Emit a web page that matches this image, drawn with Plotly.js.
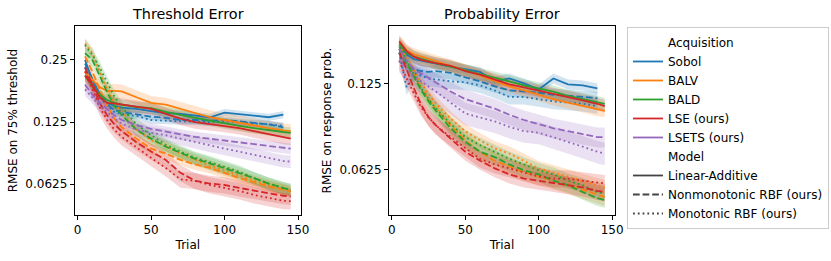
<!DOCTYPE html>
<html>
<head>
<meta charset="utf-8">
<script src="https://cdn.plot.ly/plotly-3.0.1.min.js"></script>
<style>html,body{margin:0;padding:0;background:#fff;}#chart{width:831px;height:261px;}</style>
</head>
<body>
<div id="chart"></div>
<script>
// ---------- data ----------
const acquisitions = ['Sobol', 'BALV', 'BALD', 'LSE (ours)', 'LSETS (ours)'];
const models = ['Linear-Additive', 'Nonmonotonic RBF (ours)', 'Monotonic RBF (ours)'];
const trials = [5, 10, 15, 20, 25, 30, 40, 50, 60, 70, 80, 90, 100, 110, 120, 130, 140, 145];
const trialsSobol = [5, 10, 15, 20, 25, 30, 40, 50, 60, 70, 80, 90, 100, 110, 120, 130, 140];
const yTickVals = [0.0625, 0.125, 0.25];
const yTickText = ['0.0625', '0.125', '0.25'];

// Threshold error (RMSE on 75% threshold)
const thrSobolLA = [0.25, 0.2, 0.17, 0.155, 0.15, 0.147, 0.145, 0.142, 0.138, 0.137, 0.135, 0.132, 0.139, 0.137, 0.135, 0.132, 0.136];
const thrSobolNM = [0.24, 0.2, 0.17, 0.152, 0.143, 0.14, 0.136, 0.133, 0.131, 0.128, 0.128, 0.127, 0.128, 0.126, 0.124, 0.122, 0.118];
const thrSobolMO = [0.23, 0.19, 0.165, 0.15, 0.14, 0.137, 0.134, 0.128, 0.127, 0.126, 0.126, 0.125, 0.126, 0.125, 0.123, 0.122, 0.12];
const thrBALVLA = [0.22, 0.2, 0.185, 0.177, 0.177, 0.176, 0.165, 0.155, 0.152, 0.145, 0.138, 0.132, 0.128, 0.124, 0.12, 0.117, 0.114, 0.113];
const thrBALVNM = [0.26, 0.22, 0.18, 0.15, 0.13, 0.118, 0.104, 0.093, 0.088, 0.082, 0.078, 0.075, 0.071, 0.067, 0.064, 0.061, 0.059, 0.0575];
const thrBALVMO = [0.3, 0.27, 0.22, 0.18, 0.155, 0.14, 0.115, 0.102, 0.096, 0.088, 0.082, 0.077, 0.073, 0.069, 0.065, 0.062, 0.059, 0.058];
const thrBALDLA = [0.21, 0.185, 0.17, 0.16, 0.155, 0.152, 0.148, 0.146, 0.14, 0.135, 0.131, 0.127, 0.123, 0.12, 0.117, 0.114, 0.112, 0.111];
const thrBALDNM = [0.27, 0.25, 0.21, 0.175, 0.15, 0.135, 0.115, 0.104, 0.095, 0.089, 0.083, 0.079, 0.075, 0.071, 0.067, 0.063, 0.06, 0.0585];
const thrBALDMO = [0.295, 0.265, 0.23, 0.195, 0.166, 0.148, 0.122, 0.108, 0.097, 0.09, 0.084, 0.08, 0.076, 0.072, 0.067, 0.063, 0.06, 0.059];
const thrLSELA = [0.21, 0.19, 0.165, 0.155, 0.154, 0.152, 0.148, 0.145, 0.137, 0.13, 0.125, 0.122, 0.12, 0.117, 0.113, 0.109, 0.105, 0.104];
const thrLSENM = [0.23, 0.19, 0.155, 0.135, 0.122, 0.113, 0.1, 0.09, 0.082, 0.071, 0.065, 0.063, 0.062, 0.06, 0.058, 0.0565, 0.055, 0.0545];
const thrLSEMO = [0.22, 0.18, 0.148, 0.128, 0.115, 0.106, 0.094, 0.084, 0.075, 0.066, 0.065, 0.062, 0.06, 0.058, 0.0555, 0.0535, 0.052, 0.0518];
const thrLSETSNM = [0.19, 0.17, 0.155, 0.145, 0.135, 0.128, 0.121, 0.116, 0.112, 0.109, 0.106, 0.104, 0.102, 0.1, 0.098, 0.096, 0.094, 0.093];
const thrLSETSMO = [0.18, 0.165, 0.15, 0.14, 0.13, 0.123, 0.115, 0.111, 0.108, 0.104, 0.1, 0.096, 0.093, 0.09, 0.087, 0.084, 0.081, 0.0805];

// Probability error (RMSE on response prob.)
const probSobolLA = [0.17, 0.158, 0.152, 0.15, 0.148, 0.146, 0.143, 0.14, 0.137, 0.127, 0.13, 0.125, 0.119, 0.13, 0.124, 0.123, 0.12];
const probSobolNM = [0.165, 0.145, 0.14, 0.138, 0.137, 0.138, 0.136, 0.131, 0.127, 0.122, 0.118, 0.117, 0.116, 0.114, 0.113, 0.112, 0.111];
const probSobolMO = [0.16, 0.121, 0.136, 0.133, 0.13, 0.129, 0.127, 0.126, 0.123, 0.118, 0.112, 0.112, 0.11, 0.108, 0.107, 0.106, 0.104];
const probBALVLA = [0.175, 0.163, 0.158, 0.155, 0.152, 0.149, 0.144, 0.139, 0.133, 0.127, 0.122, 0.118, 0.114, 0.11, 0.107, 0.104, 0.101, 0.1];
const probBALVNM = [0.165, 0.148, 0.133, 0.12, 0.11, 0.102, 0.089, 0.079, 0.072, 0.067, 0.064, 0.061, 0.059, 0.057, 0.055, 0.053, 0.051, 0.05];
const probBALVMO = [0.17, 0.155, 0.14, 0.125, 0.115, 0.106, 0.094, 0.085, 0.079, 0.074, 0.071, 0.067, 0.063, 0.061, 0.059, 0.057, 0.055, 0.054];
const probBALDLA = [0.172, 0.16, 0.155, 0.152, 0.15, 0.147, 0.143, 0.139, 0.135, 0.131, 0.127, 0.123, 0.12, 0.117, 0.113, 0.11, 0.107, 0.106];
const probBALDNM = [0.165, 0.148, 0.132, 0.118, 0.108, 0.1, 0.087, 0.078, 0.072, 0.069, 0.065, 0.062, 0.06, 0.057, 0.055, 0.052, 0.0495, 0.0488];
const probBALDMO = [0.168, 0.15, 0.135, 0.12, 0.11, 0.102, 0.09, 0.081, 0.076, 0.072, 0.068, 0.065, 0.062, 0.06, 0.057, 0.055, 0.052, 0.0515];
const probLSELA = [0.175, 0.162, 0.155, 0.151, 0.149, 0.147, 0.144, 0.138, 0.134, 0.129, 0.124, 0.121, 0.118, 0.115, 0.112, 0.109, 0.106, 0.104];
const probLSENM = [0.16, 0.14, 0.12, 0.105, 0.095, 0.089, 0.08, 0.072, 0.067, 0.063, 0.06, 0.058, 0.057, 0.056, 0.055, 0.054, 0.0525, 0.052];
const probLSEMO = [0.15, 0.13, 0.115, 0.103, 0.095, 0.089, 0.081, 0.074, 0.068, 0.065, 0.063, 0.061, 0.059, 0.058, 0.058, 0.057, 0.056, 0.0558];
const probLSETSNM = [0.165, 0.15, 0.14, 0.135, 0.13, 0.125, 0.117, 0.11, 0.106, 0.102, 0.097, 0.093, 0.09, 0.087, 0.085, 0.083, 0.081, 0.081];
const probLSETSMO = [0.15, 0.14, 0.132, 0.127, 0.122, 0.117, 0.107, 0.098, 0.095, 0.092, 0.088, 0.085, 0.084, 0.081, 0.078, 0.075, 0.072, 0.071];

// relative half-width of the shaded band, per model [LA, NM, MO]
const thrBandSobol = [0.04, 0.04, 0.04];
const thrBandBALV = [0.08, 0.06, 0.06];
const thrBandBALD = [0.06, 0.07, 0.07];
const thrBandLSE = [0.07, 0.09, 0.09];
const thrBandLSETS = [0, 0.06, 0.07];
const probBandSobol = [0.04, 0.05, 0.06];
const probBandBALV = [0.05, 0.07, 0.06];
const probBandBALD = [0.05, 0.06, 0.06];
const probBandLSE = [0.05, 0.07, 0.07];
const probBandLSETS = [0, 0.08, 0.09];

// ---------- styling ----------
const colors = ['#1f77b4', '#ff7f0e', '#2ca02c', '#d62728', '#9467bd'];
const fills = ['rgba(31,119,180,0.2)', 'rgba(255,127,14,0.2)', 'rgba(44,160,44,0.2)', 'rgba(214,39,40,0.2)', 'rgba(148,103,189,0.2)'];
const dashes = ['solid', '6.7px,2.9px', '1.8px,3px'];
const LW = 1.8;

const thrSeries = [
  [thrSobolLA, thrSobolNM, thrSobolMO],
  [thrBALVLA, thrBALVNM, thrBALVMO],
  [thrBALDLA, thrBALDNM, thrBALDMO],
  [thrLSELA, thrLSENM, thrLSEMO],
  [null, thrLSETSNM, thrLSETSMO]
];
const thrBands = [thrBandSobol, thrBandBALV, thrBandBALD, thrBandLSE, thrBandLSETS];
const probSeries = [
  [probSobolLA, probSobolNM, probSobolMO],
  [probBALVLA, probBALVNM, probBALVMO],
  [probBALDLA, probBALDNM, probBALDMO],
  [probLSELA, probLSENM, probLSEMO],
  [null, probLSETSNM, probLSETSMO]
];
const probBands = [probBandSobol, probBandBALV, probBandBALD, probBandLSE, probBandLSETS];

const traces = [];
function addPanel(series, bands, xa, ya) {
  const bandTraces = [], lineTraces = [];
  series.forEach((row, a) => {
    row.forEach((vals, m) => {
      if (!vals) return;
      const xs = (a === 0) ? trialsSobol : trials;
      const w = bands[a][m];
      const up = vals.map(v => v * (1 + w));
      const lo = vals.map(v => v * (1 - w));
      bandTraces.push({
        x: xs.concat(xs.slice().reverse()),
        y: up.concat(lo.slice().reverse()),
        xaxis: xa, yaxis: ya, type: 'scatter', mode: 'lines',
        fill: 'toself', fillcolor: fills[a], line: {width: 0, color: fills[a]},
        hoverinfo: 'skip', showlegend: false
      });
      lineTraces.push({
        x: xs, y: vals, xaxis: xa, yaxis: ya, type: 'scatter', mode: 'lines',
        name: acquisitions[a] + ' / ' + models[m],
        line: {color: colors[a], width: LW, dash: dashes[m]},
        showlegend: false
      });
    });
  });
  traces.push(...bandTraces, ...lineTraces);
}
addPanel(thrSeries, thrBands, 'x', 'y');
addPanel(probSeries, probBands, 'x2', 'y2');

// legend entries
function legendEntry(name, color, dash) {
  traces.push({x: [null], y: [null], xaxis: 'x', yaxis: 'y', type: 'scatter', mode: 'lines',
    name: name, line: {color: color, width: dash === null ? 0 : LW, dash: dash || 'solid'}, showlegend: true});
}
legendEntry('Acquisition', 'rgba(0,0,0,0)', null);
acquisitions.forEach((a, i) => legendEntry(a, colors[i], 'solid'));
legendEntry('Model', 'rgba(0,0,0,0)', null);
models.forEach((m, i) => legendEntry(m, '#444444', dashes[i]));

const font = {family: 'DejaVu Sans, sans-serif', size: 12, color: '#000'};
function xAxis(domain, anchor) {
  return {domain: domain, anchor: anchor, range: [-2, 152], tickvals: [0, 50, 100, 150],
    ticks: 'outside', ticklen: 4, tickcolor: '#000', showline: true, mirror: true,
    linecolor: '#000', linewidth: 1, showgrid: false, zeroline: false,
    tickfont: font, title: {text: 'Trial', font: font, standoff: 4}, automargin: false};
}
function yAxis(range, anchor, title) {
  return {type: 'log', domain: [0.1762, 0.9004], anchor: anchor, range: range,
    tickvals: yTickVals, ticktext: yTickText, ticks: 'outside', ticklen: 4, tickcolor: '#000',
    showline: true, mirror: true, linecolor: '#000', linewidth: 1, showgrid: false, zeroline: false,
    tickfont: font, title: {text: title, font: font, standoff: 5}, automargin: false};
}

const layout = {
  width: 831, height: 261,
  margin: {l: 0, r: 0, t: 0, b: 0},
  paper_bgcolor: '#fff', plot_bgcolor: '#fff',
  font: font,
  showlegend: true,
  legend: {x: 0.7545, y: 0.8966, xanchor: 'left', yanchor: 'top', bgcolor: '#fff',
    bordercolor: '#cccccc', borderwidth: 1, font: font, traceorder: 'normal'},
  xaxis: xAxis([0.0899, 0.3622], 'y'),
  yaxis: yAxis([Math.log10(0.04437), Math.log10(0.3652)], 'x', 'RMSE on 75% threshold'),
  xaxis2: xAxis([0.4681, 0.7401], 'y2'),
  yaxis2: yAxis([Math.log10(0.04324), Math.log10(0.1984)], 'x2', 'RMSE on response prob.'),
  annotations: [
    {text: 'Threshold Error', xref: 'paper', yref: 'paper', x: (0.0899 + 0.3622) / 2, y: 1 - 14 / 261,
      xanchor: 'center', yanchor: 'middle', showarrow: false, font: {family: font.family, size: 14.4, color: '#000'}},
    {text: 'Probability Error', xref: 'paper', yref: 'paper', x: (0.4681 + 0.7401) / 2, y: 1 - 14 / 261,
      xanchor: 'center', yanchor: 'middle', showarrow: false, font: {family: font.family, size: 14.4, color: '#000'}}
  ]
};

Plotly.newPlot('chart', traces, layout, {displayModeBar: false, staticPlot: true});
</script>
</body>
</html>
